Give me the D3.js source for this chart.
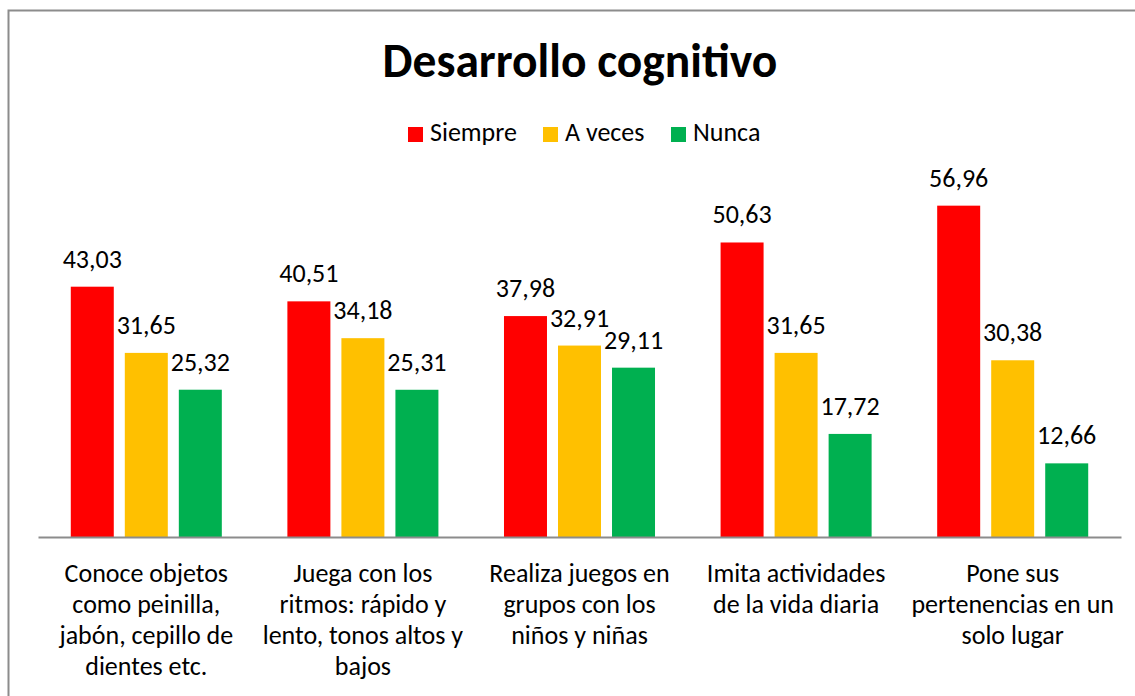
<!DOCTYPE html>
<html>
<head>
<meta charset="utf-8">
<script src="https://cdnjs.cloudflare.com/ajax/libs/d3/7.8.5/d3.min.js"></script>
<style>
  body { margin: 0; background: #fff; }
  svg text { font-family: Carlito, Calibri, Lato, sans-serif; fill: #000; }
</style>
</head>
<body>
<div id="chart"></div>
<script>
var width = 1135,
    height = 696;

var categories = [
  ["Conoce objetos", "como peinilla,", "jabón, cepillo de", "dientes etc."],
  ["Juega con los", "ritmos: rápido y", "lento, tonos altos y", "bajos"],
  ["Realiza juegos en", "grupos con los", "niños y niñas"],
  ["Imita actividades", "de la vida diaria"],
  ["Pone sus", "pertenencias en un", "solo lugar"]
];
var seriesNames = ["Siempre", "A veces", "Nunca"];
var siempre = [43.03, 40.51, 37.98, 50.63, 56.96];
var aVeces = [31.65, 34.18, 32.91, 31.65, 30.38];
var nunca = [25.32, 25.31, 29.11, 17.72, 12.66];
var colors = ["#FF0000", "#FFC000", "#00B050"];

var series = [siempre, aVeces, nunca];

var svg = d3.select("#chart")
  .append("svg")
  .attr("width", width)
  .attr("height", height);

// chart border
svg.append("rect")
  .attr("x", 8.5)
  .attr("y", 10.5)
  .attr("width", 1140)
  .attr("height", 700)
  .attr("fill", "none")
  .attr("stroke", "#8c8c8c")
  .attr("stroke-width", 2);

var x0 = d3.scaleBand()
  .domain(d3.range(categories.length))
  .range([38, 1121]);

var x1 = d3.scaleBand()
  .domain(d3.range(seriesNames.length))
  .range([0, x0.bandwidth()])
  .paddingInner(0.204)
  .paddingOuter(0.607);

var y = d3.scaleLinear()
  .domain([0, 60])
  .range([537, 537 - 60 * 5.817]);

// title
svg.append("text")
  .attr("x", 580)
  .attr("y", 77)
  .attr("text-anchor", "middle")
  .style("font-size", "47.5px")
  .style("font-weight", "bold")
  .text("Desarrollo cognitivo");

// legend
var legendX = [408, 543, 671];
var legend = svg.selectAll(".legend")
  .data(seriesNames)
  .enter()
  .append("g")
  .attr("class", "legend")
  .attr("transform", function (d, i) { return "translate(" + legendX[i] + ",127)"; });
legend.append("rect")
  .attr("width", 15)
  .attr("height", 15)
  .attr("fill", function (d, i) { return colors[i]; });
legend.append("text")
  .attr("x", 22)
  .attr("y", 14)
  .style("font-size", "26px")
  .text(function (d) { return d; });

// bars
var groups = svg.selectAll(".group")
  .data(categories)
  .enter()
  .append("g")
  .attr("class", "group")
  .attr("transform", function (d, i) { return "translate(" + x0(i) + ",0)"; });

groups.selectAll("rect")
  .data(function (d, i) { return series.map(function (s, j) { return { s: j, v: s[i] }; }); })
  .enter()
  .append("rect")
  .attr("x", function (d) { return x1(d.s); })
  .attr("y", function (d) { return y(d.v); })
  .attr("width", x1.bandwidth())
  .attr("height", function (d) { return y(0) - y(d.v); })
  .attr("fill", function (d) { return colors[d.s]; });

groups.selectAll(".val")
  .data(function (d, i) { return series.map(function (s, j) { return { s: j, v: s[i] }; }); })
  .enter()
  .append("text")
  .attr("class", "val")
  .attr("x", function (d) { return x1(d.s) + x1.bandwidth() / 2; })
  .attr("y", function (d) { return y(d.v) - 19; })
  .attr("text-anchor", "middle")
  .style("font-size", "26px")
  .text(function (d) { return d.v.toFixed(2).replace(".", ","); });

// x axis
var xAxis = d3.axisBottom(x0).tickSize(0).tickFormat("");
var axisG = svg.append("g")
  .attr("transform", "translate(0,537)")
  .call(xAxis);
axisG.select(".domain")
  .attr("stroke", "#8c8c8c")
  .attr("stroke-width", 2);

axisG.selectAll(".tick")
  .each(function (d) {
    var t = d3.select(this).append("text")
      .attr("text-anchor", "middle")
      .attr("fill", "#000")
      .style("font-size", "26px");
    categories[d].forEach(function (line, k) {
      t.append("tspan")
        .attr("x", 0)
        .attr("y", 45 + k * 31)
        .text(line);
    });
  });
</script>
</body>
</html>
